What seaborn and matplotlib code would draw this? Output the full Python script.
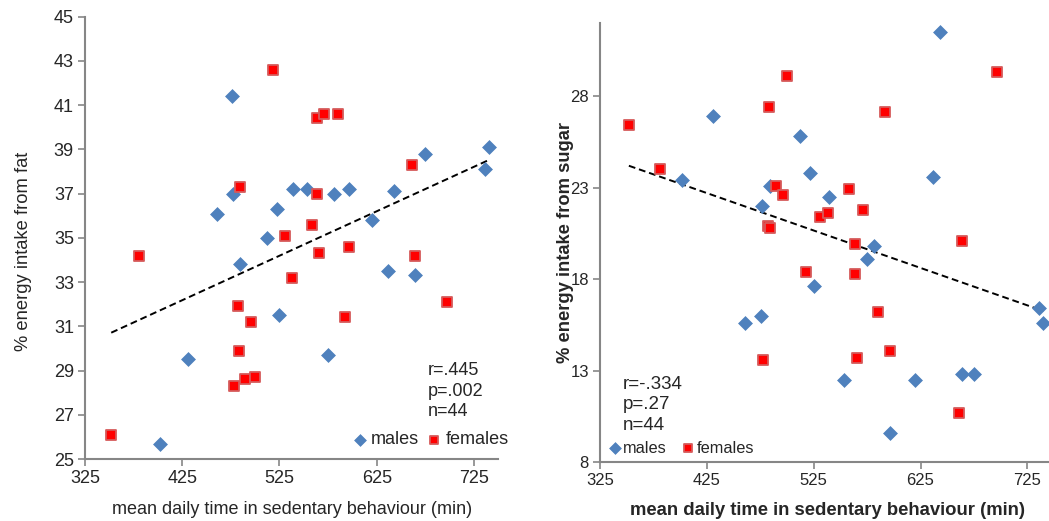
import numpy as np
import pandas as pd
import seaborn as sns
import matplotlib.pyplot as plt

# minutes of sedentary time, same participants in both panels
males_time = [402, 431, 461, 476, 477, 484, 512, 522, 525, 539, 553,
              575, 581, 596, 620, 637, 643, 664, 675, 736, 740]
males_fat = [25.7, 29.5, 36.1, 41.4, 37.0, 33.8, 35.0, 36.3, 31.5, 37.2, 37.2,
             29.7, 37.0, 37.2, 35.8, 33.5, 37.1, 33.3, 38.8, 38.1, 39.1]
males_sugar = [23.4, 26.9, 15.6, 16.0, 22.0, 23.1, 25.8, 23.8, 17.6, 22.5, 12.5,
               19.1, 19.8, 9.6, 12.5, 23.6, 31.5, 12.8, 12.8, 16.4, 15.6]

females_time = [352, 381, 478, 482, 483, 484, 490, 496, 500, 518, 531, 538,
                558, 564, 564, 566, 571, 585, 592, 596, 661, 664, 697]
females_fat = [26.1, 34.2, 28.3, 31.9, 29.9, 37.3, 28.6, 31.2, 28.7, 42.6, 35.1, 33.2,
               35.6, 40.4, 37.0, 34.3, 40.6, 40.6, 31.4, 34.6, 38.3, 34.2, 32.1]
females_sugar = [26.4, 24.0, 13.6, 20.9, 27.4, 20.8, 23.1, 22.6, 29.1, 18.4, 21.4, 21.6,
                 22.9, 19.9, 18.3, 13.7, 21.8, 16.2, 27.1, 14.1, 10.7, 20.1, 29.3]

x_ticks = [325, 425, 525, 625, 725]

df = pd.concat([
    pd.DataFrame({'time': males_time, 'fat': males_fat, 'sugar': males_sugar, 'sex': 'males'}),
    pd.DataFrame({'time': females_time, 'fat': females_fat, 'sugar': females_sugar, 'sex': 'females'}),
], ignore_index=True)

sns.set_style("white")
plt.rcParams['font.family'] = ['Liberation Sans', 'DejaVu Sans']

BLUE = '#4F81BD'
RED = '#FF0000'
GREY = '#868686'

fig = plt.figure(figsize=(10.49, 5.21), dpi=100)
ax1 = fig.add_axes([0.081, 0.119, 0.394, 0.849])
ax2 = fig.add_axes([0.572, 0.1127, 0.4328, 0.8438])


def panel(ax, col, ylim, yticks, tick_fs):
    males = df[df.sex == 'males']
    females = df[df.sex == 'females']
    sns.scatterplot(data=males, x='time', y=col, ax=ax, marker='D', s=50,
                    color=BLUE, edgecolor=BLUE, linewidth=0.5, label='males', zorder=3)
    sns.scatterplot(data=females, x='time', y=col, ax=ax, marker='s', s=52,
                    color=RED, edgecolor='#D65A5A', linewidth=1.3, label='females', zorder=3)
    sns.regplot(data=df, x='time', y=col, ax=ax, scatter=False, ci=None, truncate=True,
                line_kws={'color': 'black', 'lw': 1.4, 'ls': (0, (3.5, 2)), 'zorder': 2})
    ax.set_xlim(325, 750)
    ax.set_ylim(*ylim)
    ax.set_xticks(x_ticks)
    ax.set_yticks(yticks)
    sns.despine(ax=ax)
    for s in ['left', 'bottom']:
        ax.spines[s].set_color(GREY)
        ax.spines[s].set_linewidth(1.5)
    ax.tick_params(axis='both', direction='out', length=5, width=1.2, color=GREY,
                   labelsize=tick_fs, left=True, bottom=True, pad=3)


panel(ax1, 'fat', (25, 45), list(range(25, 46, 2)), 13)
ax1.set_xlabel('mean daily time in sedentary behaviour (min)', fontsize=13, labelpad=10)
ax1.set_ylabel('% energy intake from fat', fontsize=13.2)
ax1.yaxis.set_label_coords(-0.128, 0.47)
ax1.text(0.829, 0.22, 'r=.445\np=.002\nn=44', transform=ax1.transAxes,
         fontsize=13, va='top', ha='left', linespacing=1.3)
sns.move_legend(ax1, 'lower right', bbox_to_anchor=(1.042, 0.008), ncol=2, frameon=False,
                fontsize=13, handlelength=0.8, handletextpad=0.2, columnspacing=0.45,
                markerscale=0.85, borderaxespad=0.0)

panel(ax2, 'sugar', (8, 32), [8, 13, 18, 23, 28], 12)
ax2.set_xlabel('mean daily time in sedentary behaviour (min)', fontsize=13.3,
               fontweight='bold', labelpad=10)
ax2.set_ylabel('% energy intake from sugar', fontsize=13.2, fontweight='bold')
ax2.yaxis.set_label_coords(-0.058, 0.5)
ax2.text(0.05, 0.196, 'r=-.334\np=.27\nn=44', transform=ax2.transAxes,
         fontsize=13.5, va='top', ha='left', linespacing=1.25)
sns.move_legend(ax2, 'lower left', bbox_to_anchor=(0.004, 0.0), ncol=2, frameon=False,
                fontsize=11.8, handlelength=0.8, handletextpad=0.1, columnspacing=0.9,
                markerscale=0.85, borderaxespad=0.0)

fig.savefig('out.png', dpi=100)
